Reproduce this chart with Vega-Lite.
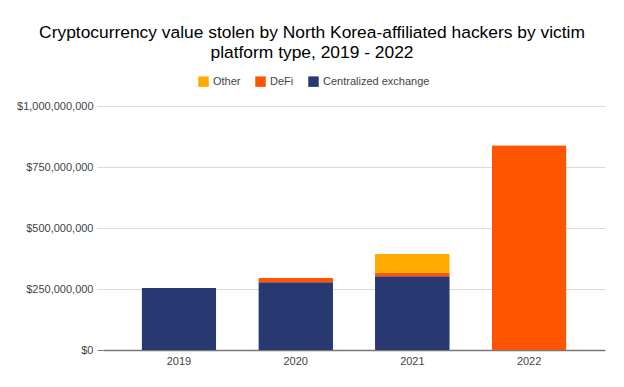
{
  "$schema": "https://vega.github.io/schema/vega-lite/v6.json",
  "autosize": {"type": "none"},
  "width": 502,
  "height": 244,
  "padding": {"left": 103, "top": 106, "right": 19, "bottom": 37},
  "background": "#ffffff",
  "config": {"view": {"stroke": null}},
  "title": {
    "text": ["Cryptocurrency value stolen by North Korea-affiliated hackers by victim", "platform type, 2019 - 2022"],
    "font": "Liberation Sans",
    "fontSize": 17.4,
    "fontWeight": "normal",
    "color": "#000000",
    "lineHeight": 20,
    "anchor": "middle",
    "dx": -42,
    "offset": 15
  },
  "data": {
    "values": [
      {"year": "2019", "type": "Centralized exchange", "value": 254000000},
      {"year": "2020", "type": "Centralized exchange", "value": 278000000},
      {"year": "2020", "type": "DeFi", "value": 18000000},
      {"year": "2021", "type": "Centralized exchange", "value": 302000000},
      {"year": "2021", "type": "DeFi", "value": 15000000},
      {"year": "2021", "type": "Other", "value": 77000000},
      {"year": "2022", "type": "DeFi", "value": 839000000}
    ]
  },
  "transform": [
    {"calculate": "indexof(['Centralized exchange','DeFi','Other'], datum.type)", "as": "stackorder"}
  ],
  "mark": {"type": "bar", "cornerRadius": 1},
  "encoding": {
    "x": {
      "field": "year",
      "type": "nominal",
      "scale": {"paddingInner": 0.36, "paddingOuter": 0.33},
      "axis": {
        "title": null,
        "labelAngle": 0,
        "labelFont": "Liberation Sans",
        "labelFontSize": 11,
        "labelColor": "#444444",
        "ticks": false,
        "domain": false,
        "labelPadding": 5
      }
    },
    "y": {
      "field": "value",
      "type": "quantitative",
      "aggregate": "sum",
      "scale": {"domain": [0, 1000000000]},
      "axis": {
        "title": null,
        "values": [0, 250000000, 500000000, 750000000, 1000000000],
        "format": "$,.0f",
        "labelFont": "Liberation Sans",
        "labelFontSize": 11,
        "labelColor": "#444444",
        "grid": true,
        "gridColor": {"condition": {"test": "datum.value === 0", "value": "#777777"}, "value": "#d9d9d9"},
        "gridWidth": {"condition": {"test": "datum.value === 0", "value": 1.5}, "value": 1},
        "tickColor": {"condition": {"test": "datum.value === 0", "value": "#777777"}, "value": "#d9d9d9"},
        "tickSize": 6,
        "labelPadding": 4,
        "domain": false
      }
    },
    "color": {
      "field": "type",
      "type": "nominal",
      "scale": {
        "domain": ["Other", "DeFi", "Centralized exchange"],
        "range": ["#ffab00", "#ff5400", "#283870"]
      },
      "legend": {
        "title": null,
        "orient": "none",
        "direction": "horizontal",
        "legendX": 95,
        "legendY": -30,
        "symbolType": "square",
        "symbolSize": 110,
        "symbolStrokeWidth": 0,
        "labelFont": "Liberation Sans",
        "labelFontSize": 11,
        "labelColor": "#444444",
        "columnPadding": 14
      }
    },
    "order": {"field": "stackorder", "type": "quantitative"}
  }
}
